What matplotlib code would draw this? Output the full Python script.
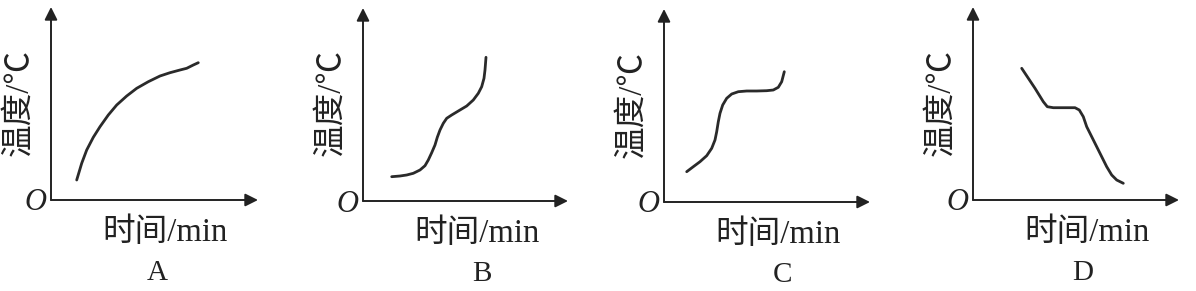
import matplotlib
matplotlib.use('Agg')
import matplotlib.pyplot as plt

# panel letters and axis labels
panels = ['A', 'B', 'C', 'D']
xlabel = '时间/min'
ylabel = '温度/℃'

# curves (time, temperature), arbitrary units
time_a = [25.7, 30.7, 35.7, 42.3, 49, 57.3, 65.7, 75.7, 85.7, 97.3, 109, 119, 129, 135.7, 142.3, 147.3]
temp_a = [20, 36.7, 50, 62.7, 73.3, 85, 95, 104, 111.7, 118.3, 124, 127.3, 130, 131.7, 135, 137.3]

time_b = [28.7, 37, 43.7, 50.3, 57, 62, 65.3, 68.7, 72, 74.3, 77, 80.3, 83.7, 88.7,
          97, 103.7, 110.3, 115.3, 118.7, 121, 122, 123]
temp_b = [24.3, 25, 26, 27.7, 31, 35.3, 41, 48.3, 56, 63.7, 71, 77.7, 82.7, 86,
          91, 95, 101, 107.7, 114.3, 122.7, 131, 143.7]

time_c = [22.7, 29.3, 36, 42.7, 47.7, 51, 52.7, 54.3, 56, 58.7, 62.7, 67.7, 74.3,
          82.7, 92.7, 102.7, 109.3, 114.3, 117.7, 120.3]
temp_c = [30.3, 35.3, 40.3, 46.3, 53.7, 62, 70.3, 80.3, 88.7, 97, 103.7, 108, 110.3,
          111, 111, 111.3, 112, 114.7, 120.3, 130.3]

time_d = [48.7, 62, 70.3, 74.3, 80.3, 90.3, 102, 106.3, 110.3, 113.7, 118.7, 123.7,
          128.7, 133.7, 138.7, 143.7, 150.3]
temp_d = [131.7, 111.7, 98.3, 93.3, 92.3, 92.3, 92.3, 90, 83.3, 73.3, 63.3, 53.3,
          43.3, 33.3, 25, 20, 16.7]

curves = [(time_a, temp_a), (time_b, temp_b), (time_c, temp_c), (time_d, temp_d)]

# layout in pixels: origin x, origin y, x-arrow tip, y-arrow tip
W, H = 1196, 291
origins = [(51, 200, 258, 7), (363, 201, 568, 8), (664, 202, 870, 9), (973, 200, 1179, 7)]
letter_dx = [106, 119, 119, 110]

serif_cjk = ['Liberation Serif', 'Noto Sans CJK SC']
ink = '#222222'

fig = plt.figure(figsize=(W / 100, H / 100), dpi=100)

for i, (ox, oy, tx, ty) in enumerate(origins):
    ax = fig.add_axes([ox / W, (H - oy) / H, (tx - ox) / W, (oy - ty) / H])
    ax.set_xlim(0, tx - ox)
    ax.set_ylim(0, oy - ty)
    ax.axis('off')

    arrow = dict(arrowstyle='-|>', color=ink, lw=1.4, mutation_scale=19,
                 shrinkA=0, shrinkB=0)
    ax.annotate('', xy=(1, 0), xytext=(0, 0), xycoords='axes fraction',
                arrowprops=arrow, annotation_clip=False)
    ax.annotate('', xy=(0, 1), xytext=(0, 0), xycoords='axes fraction',
                arrowprops=arrow, annotation_clip=False)

    t, temp = curves[i]
    ax.plot(t, temp, color='#2a2a2a', lw=2.0, solid_capstyle='round',
            solid_joinstyle='round', clip_on=False)

    ax.text(-16, -3, 'O', fontsize=22, style='italic', family='Liberation Serif',
            ha='center', va='center', color=ink, clip_on=False)
    ax.text(114, -33, xlabel, fontsize=23.5, family=serif_cjk,
            ha='center', va='center', color=ink, clip_on=False)
    ax.text(-32, 98, ylabel, fontsize=23.5, family=serif_cjk, rotation=90,
            ha='center', va='center', color=ink, clip_on=False)
    ax.text(letter_dx[i], -73, panels[i], fontsize=21, family='Liberation Serif',
            ha='center', va='center', color=ink, clip_on=False)

fig.savefig('out.png', dpi=100)
